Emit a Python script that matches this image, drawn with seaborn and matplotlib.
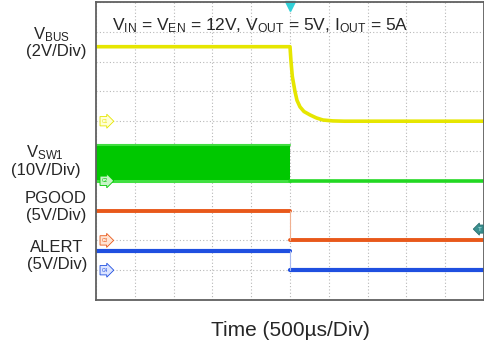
import numpy as np
import pandas as pd
import matplotlib.pyplot as plt
import seaborn as sns

# Scope channel data (time in us relative to trigger, values in volts)
vbus_t = [-2500, 0, 13, 30, 64, 90, 129, 180, 258, 340, 425, 550, 700, 2500]
vbus_v = [5.0, 5.0, 4.0, 3.0, 2.0, 1.4, 0.96, 0.65, 0.42, 0.22, 0.08, 0.02, 0.0, 0.0]

sw_t_on = [-2500, 0]
sw_high = [12.0, 12.0]
sw_t_off = [0, 2500]
sw_v_off = [0.0, 0.0]

pgood_t_before = [-2500, 0]
pgood_v_before = [5.0, 5.0]
pgood_t_after = [0, 2500]
pgood_v_after = [0.0, 0.0]

alert_t_before = [-2500, 0]
alert_v_before = [3.3, 3.3]
alert_t_after = [0, 2500]
alert_v_after = [0.0, 0.0]

# channel settings: volts per division and ground offset (divisions)
ch_scale = {"C1": 2.0, "C2": 10.0, "C3": 5.0, "C4": 5.0}
ch_offset = {"C1": 6.0, "C2": 4.0, "C3": 2.0, "C4": 1.0}
ch_color = {"C1": "#e6e600", "C2": "#00c800", "C3": "#e8581a", "C4": "#1f4fe0"}
ch_light = {"C1": "#ffffd8", "C2": "#c8f4c8", "C3": "#ffe4d4", "C4": "#dce4ff"}


def to_div(ch, values):
    return [ch_offset[ch] + v / ch_scale[ch] for v in values]


sns.set_style("white")
plt.rcParams['font.family'] = ['Liberation Sans', 'DejaVu Sans']
plt.rcParams['mathtext.fontset'] = 'custom'
plt.rcParams['mathtext.rm'] = 'Liberation Sans'
plt.rcParams['mathtext.it'] = 'Liberation Sans'

fig = plt.figure(figsize=(4.85, 3.54), dpi=100)
ax = fig.add_axes([96 / 485, 54 / 354, 388 / 485, 298 / 354])

# VBUS
sns.lineplot(x=vbus_t, y=to_div("C1", vbus_v), ax=ax, color=ch_color["C1"],
             linewidth=2.6, sort=False, estimator=None)

# VSW1 switching band
ax.fill_between(sw_t_on, to_div("C2", [-0.3, -0.3]), to_div("C2", sw_high),
                color=ch_color["C2"], linewidth=0)
sns.lineplot(x=sw_t_on, y=to_div("C2", sw_high), ax=ax, color="#40dd40",
             linewidth=1.5, sort=False, estimator=None)
sns.lineplot(x=sw_t_on, y=to_div("C2", [0, 0]), ax=ax, color="#40e040",
             linewidth=2.2, sort=False, estimator=None)
sns.lineplot(x=sw_t_off, y=to_div("C2", sw_v_off), ax=ax, color="#22d822",
             linewidth=2.6, sort=False, estimator=None)

# PGOOD
sns.lineplot(x=pgood_t_before, y=to_div("C3", pgood_v_before), ax=ax,
             color=ch_color["C3"], linewidth=2.8, sort=False, estimator=None)
sns.lineplot(x=pgood_t_after, y=to_div("C3", pgood_v_after), ax=ax,
             color=ch_color["C3"], linewidth=2.8, sort=False, estimator=None)
ax.plot([0, 0], to_div("C3", [pgood_v_before[-1], pgood_v_after[0]]),
        color="#f0b090", linewidth=0.8)

# ALERT
sns.lineplot(x=alert_t_before, y=to_div("C4", alert_v_before), ax=ax,
             color=ch_color["C4"], linewidth=3.0, sort=False, estimator=None)
sns.lineplot(x=alert_t_after, y=to_div("C4", alert_v_after), ax=ax,
             color=ch_color["C4"], linewidth=3.0, sort=False, estimator=None)
ax.plot([0, 0], to_div("C4", [alert_v_before[-1], alert_v_after[0]]),
        color="#a8b8f0", linewidth=0.8)

ax.set_xlim(-2500, 2500)
ax.set_ylim(0, 10)
ax.set_xticks(np.arange(-2500, 2501, 500))
ax.set_yticks(np.arange(0, 11, 1))
ax.set_xticklabels([])
ax.set_yticklabels([])
ax.tick_params(length=0)
ax.set_xticks(np.arange(-2500, 2501, 100), minor=True)
ax.set_yticks(np.arange(0, 10.01, 0.2), minor=True)
ax.tick_params(which="minor", direction="in", length=2.0, color="#d0d0d0", width=0.7)
ax.grid(True, which="major", color="#b8b8b8", linestyle=(0, (1, 2)), linewidth=0.8)
ax.set_axisbelow(True)
for s in ax.spines.values():
    s.set_color("#606060")
    s.set_linewidth(1.3)
ax.set_xlabel("")
ax.set_ylabel("")

# ground reference tags
for ch in ["C1", "C2", "C3", "C4"]:
    ax.text(-2420, ch_offset[ch], ch, fontsize=3.5, color=ch_color[ch],
            ha="left", va="center",
            bbox=dict(boxstyle="rarrow,pad=0.45", fc=ch_light[ch], ec=ch_color[ch], lw=0.6))

# trigger markers
ax.plot([0], [9.85], marker="v", color="#30d0d8", markersize=7, clip_on=False)
ax.text(2470, 2.38, "T", fontsize=4.5, color="#c0f0f0", ha="right", va="center",
        bbox=dict(boxstyle="larrow,pad=0.25", fc="#3a9090", ec="#2a7070", lw=0.6))

# annotation inside plot
fig.text(112 / 485, 1 - 30 / 354,
         r"V$_{\mathrm{IN}}$ = V$_{\mathrm{EN}}$ = 12V, V$_{\mathrm{OUT}}$ = 5V, I$_{\mathrm{OUT}}$ = 5A",
         fontsize=12.5, ha="left", va="baseline")

# channel labels on the left
labels = [
    (r"V$_{\mathrm{BUS}}$", 51, 39, "(2V/Div)", 56, 51.5),
    (r"V$_{\mathrm{SW1}}$", 45, 157, "(10V/Div)", 46, 170),
    ("PGOOD", 56, 203, "(5V/Div)", 56, 215.5),
    ("ALERT", 57, 252, "(5V/Div)", 57, 264.5),
]
for name, nx, ny, scale, sx, sy in labels:
    fig.text(nx / 485, 1 - ny / 354, name, fontsize=12, ha="center", va="baseline")
    fig.text(sx / 485, 1 - sy / 354, scale, fontsize=12, ha="center", va="center")

fig.text(290 / 485, 1 - 336 / 354, "Time (500\u00b5s/Div)", fontsize=15,
         ha="center", va="baseline")

fig.savefig("out.png", dpi=100)
